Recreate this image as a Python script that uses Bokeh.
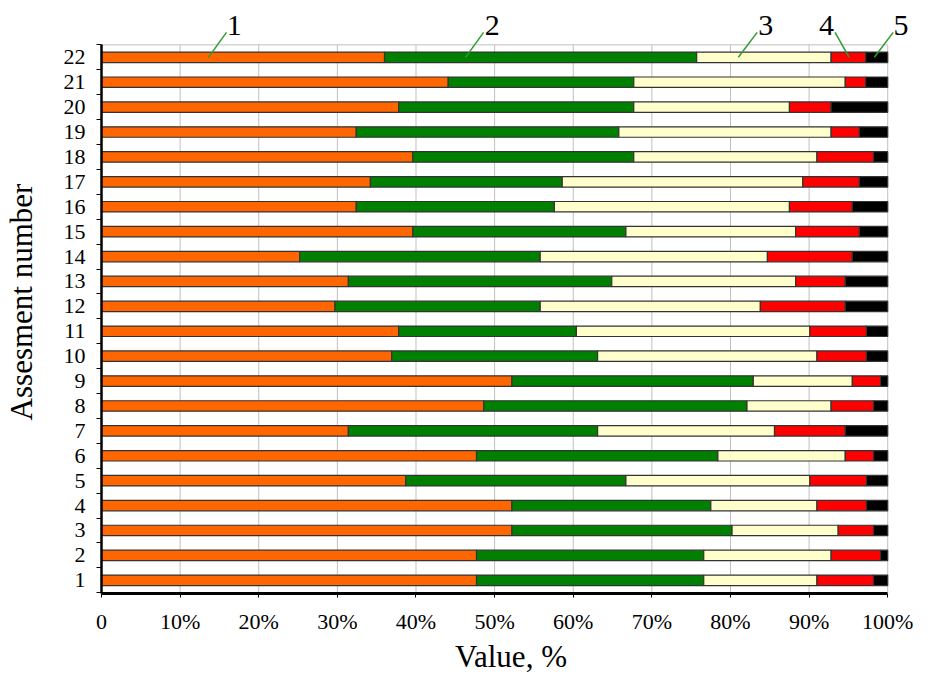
import numpy as np
from bokeh.plotting import figure
from bokeh.models import ColumnDataSource, FixedTicker, Range1d
from bokeh.core.properties import value
from bokeh.embed import file_html
from bokeh.resources import INLINE

# ---- data (assessments 1..22), segment shares in % ----
assessments = list(range(1, 23))
s1 = [47.7, 47.7, 52.2, 52.2, 38.7, 47.7, 31.4, 48.6, 52.2, 36.9, 37.8,
      29.7, 31.4, 25.2, 39.6, 32.4, 34.2, 39.6, 32.4, 37.8, 44.1, 36.0]
s2 = [28.9, 28.9, 28.0, 25.3, 28.0, 30.7, 31.7, 33.5, 30.7, 26.2, 22.6,
      26.1, 33.5, 30.6, 27.1, 25.2, 24.4, 28.1, 33.4, 29.9, 23.6, 39.7]
s3 = [14.4, 16.2, 13.5, 13.5, 23.4, 16.2, 22.5, 10.7, 12.6, 27.9, 29.7,
      28.0, 23.4, 28.9, 21.6, 29.9, 30.6, 23.3, 27.0, 19.8, 26.9, 17.1]
s4 = [7.2, 6.3, 4.5, 6.3, 7.2, 3.6, 9.0, 5.4, 3.6, 6.3, 7.2,
      10.8, 6.3, 10.8, 8.1, 8.0, 7.2, 7.2, 3.6, 5.3, 2.6, 4.4]
s5 = [1.8, 0.9, 1.8, 2.7, 2.7, 1.8, 5.4, 1.8, 0.9, 2.7, 2.7,
      5.4, 5.4, 4.5, 3.6, 4.5, 3.6, 1.8, 3.6, 7.2, 2.8, 2.8]
series_names = ["s1", "s2", "s3", "s4", "s5"]
series_colors = ["#FF6600", "#008000", "#FFFFCC", "#FF0000", "#000000"]

x_ticks = [0, 10, 20, 30, 40, 50, 60, 70, 80, 90, 100]
x_tick_labels = ["0", "10%", "20%", "30%", "40%", "50%", "60%", "70%", "80%", "90%", "100%"]
x_title = "Value, %"
y_title = "Assesment number"

# callout labels 1..5 with leader lines (data coords)
callout_text = ["1", "2", "3", "4", "5"]
callout_x = [16.9, 49.7, 84.5, 92.2, 101.7]
callout_y = [23.27] * 5
leader_x0 = [15.9, 48.6, 83.4, 93.3, 100.7]
leader_y0 = [23.0] * 5
leader_x1 = [13.6, 46.3, 81.0, 95.1, 98.3]
leader_y1 = [22.0] * 5

FONT = "Liberation Serif"
BAR_H = 0.42
Y_TOP = 22.5
Y_BOT = 0.47

src = ColumnDataSource(dict(n=assessments, s1=s1, s2=s2, s3=s3, s4=s4, s5=s5))

p = figure(width=920, height=676, output_backend="svg", toolbar_location=None,
           x_range=Range1d(0, 104.17), y_range=Range1d(Y_BOT, 23.88),
           min_border_left=95, min_border_right=0, min_border_top=10,
           min_border_bottom=82)
p.outline_line_color = None
p.background_fill_color = "#FFFFFF"
p.border_fill_color = "#FFFFFF"
p.xgrid.visible = False
p.ygrid.visible = False

# grid lines (drawn manually so they stop at the plot top)
gx = x_ticks[1:]
p.segment(x0=gx, y0=[Y_BOT] * len(gx), x1=gx, y1=[Y_TOP] * len(gx),
          line_color="#C0C0C0", line_width=1)
p.segment(x0=[x_ticks[0]], y0=[Y_TOP], x1=[x_ticks[-1]], y1=[Y_TOP],
          line_color="#C0C0C0", line_width=1)

p.hbar_stack(series_names, y="n", height=BAR_H, color=series_colors,
             source=src, line_color="#333333", line_width=1.2)

# callouts
p.segment(x0=leader_x0, y0=leader_y0, x1=leader_x1, y1=leader_y1,
          line_color="#2E9B2E", line_width=1.5)
p.text(x=callout_x, y=callout_y, text=callout_text, text_font=value(FONT),
       text_font_size="30px", text_align="center", text_baseline="middle",
       text_color="#000000")

# x axis
xa = p.xaxis[0]
xa.ticker = FixedTicker(ticks=x_ticks)
xa.major_label_overrides = {t: l for t, l in zip(x_ticks, x_tick_labels)}
xa.bounds = (x_ticks[0], x_ticks[-1])
xa.axis_line_width = 3
xa.axis_line_color = "#000000"
xa.major_tick_out = 4
xa.major_tick_in = 0
xa.minor_tick_line_color = None
xa.major_label_standoff = 11
xa.major_label_text_font = FONT
xa.major_label_text_font_size = "22px"
xa.major_label_text_color = "#000000"
xa.axis_label = x_title
xa.axis_label_text_font = FONT
xa.axis_label_text_font_size = "31px"
xa.axis_label_text_font_style = "normal"
xa.axis_label_text_color = "#000000"
xa.axis_label_standoff = 2

# y axis
ya = p.yaxis[0]
ya.ticker = FixedTicker(ticks=assessments,
                        minor_ticks=[a - 0.5 for a in assessments] + [assessments[-1] + 0.5])
ya.bounds = (Y_BOT, Y_TOP)
ya.axis_line_width = 2.5
ya.axis_line_color = "#000000"
ya.major_tick_out = 0
ya.major_tick_in = 0
ya.minor_tick_out = 5
ya.minor_tick_in = 0
ya.minor_tick_line_color = "#000000"
ya.major_label_standoff = 11
ya.major_label_text_font = FONT
ya.major_label_text_font_size = "22px"
ya.major_label_text_color = "#000000"
ya.axis_label = y_title
ya.axis_label_text_font = FONT
ya.axis_label_text_font_size = "31px"
ya.axis_label_text_font_style = "normal"
ya.axis_label_text_color = "#000000"
ya.axis_label_standoff = 22

open("out.html", "w").write(file_html(p, INLINE))
